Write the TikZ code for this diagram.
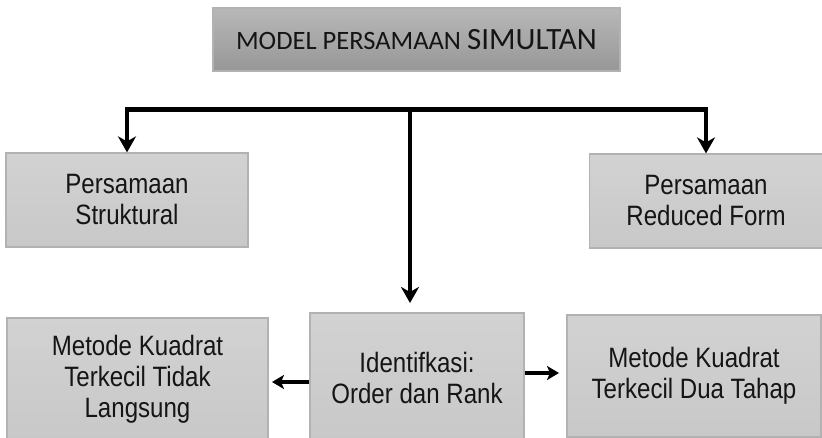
\documentclass[tikz,border=0pt]{standalone}
\usepackage{fontspec}
\setmainfont{Liberation Sans}
\newfontfamily\boxfont{Liberation Sans}[FakeStretch=0.86]
\newfontfamily\titlefont{Carlito}
\usetikzlibrary{arrows.meta}
\definecolor{boxfill}{HTML}{D2D2D2}
\definecolor{boxfilldark}{HTML}{C8C8C8}
\definecolor{boxline}{HTML}{B2B2B2}
\definecolor{titletop}{HTML}{B8B8B8}
\definecolor{titlebot}{HTML}{979797}
\definecolor{ink}{HTML}{151515}
\tikzset{
  box/.style={rectangle, draw=boxline, line width=1.2pt, top color=boxfill, bottom color=boxfilldark,
    inner sep=0pt, align=center, text=ink,
    font=\boxfont\fontsize{28}{31}\selectfont},
  titlebox/.style={rectangle, draw=boxline, line width=1.2pt, top color=titletop, bottom color=titlebot,
    inner sep=0pt, align=center, text=ink},
  arr/.style={draw=black, line width=4.6pt, line join=miter,
    -{Stealth[length=16pt, width=18pt, inset=5pt]}},
  sidearr/.style={draw=black, line width=4pt,
    -{Stealth[length=12pt, width=14pt, inset=3pt]}}
}
\begin{document}
\begin{tikzpicture}[x=1pt, y=-1pt]
  \useasboundingbox[fill=white] (0,0) rectangle (822,438);

  % heading
  \node[titlebox, minimum width=407pt, minimum height=63pt] (model) at (416.5,39.5)
    {\titlefont\fontsize{26.5}{30}\selectfont MODEL PERSAMAAN \fontsize{31}{30}\selectfont SIMULTAN};

  % second row
  \node[box, minimum width=242pt, minimum height=94pt] (struct) at (127,200)
    {Persamaan\\Struktural};
  \node[box, minimum width=233pt, minimum height=94pt] (reduced) at (706,201)
    {Persamaan\\Reduced Form};

  % third row
  \node[box, minimum width=261pt, minimum height=123pt] (ilsq) at (137.5,379.5)
    {Metode Kuadrat\\Terkecil Tidak\\Langsung};
  \node[box, minimum width=214pt, minimum height=129pt] (ident) at (417,377.5)
    {Identifkasi:\\Order dan Rank};
  \node[box, minimum width=254pt, minimum height=122pt] (tsls) at (694,376)
    {Metode Kuadrat\\Terkecil Dua Tahap};

  % branching bar
  \coordinate (hub) at (410,109.5);
  \coordinate (identtop) at (410,303);
  \draw[arr] (hub) -| (struct.north);
  \draw[arr] (hub) -| (reduced.north);
  \draw[arr] (hub) -- (identtop);

  % side arrows
  \coordinate (leftend) at (272,382);
  \coordinate (rightend) at (559,373);
  \draw[sidearr] (ident.west |- leftend) -- (leftend);
  \draw[sidearr] (ident.east |- rightend) -- (rightend);
\end{tikzpicture}
\end{document}
